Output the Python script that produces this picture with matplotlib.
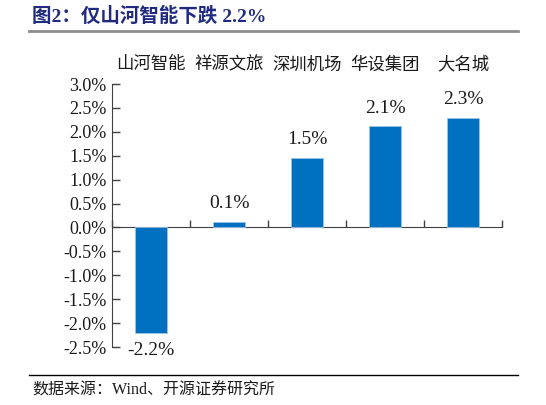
import matplotlib
matplotlib.use("Agg")
import matplotlib.pyplot as plt
from matplotlib.ticker import FuncFormatter, MultipleLocator

# data
companies = ["山河智能", "祥源文旅", "深圳机场", "华设集团", "大名城"]
changes = [-2.2, 0.12, 1.46, 2.12, 2.29]  # % change
title = "图2：仅山河智能下跌 2.2%"
source = "数据来源：Wind、开源证券研究所"

cjk = ["Noto Sans CJK SC", "DejaVu Sans"]
serif = ["Liberation Serif", "DejaVu Serif"]
mixed = ["Liberation Serif", "Noto Sans CJK SC", "DejaVu Sans"]  # latin serif, CJK fallback
plt.rcParams["font.family"] = serif
bar_color = "#0070C0"

fig = plt.figure(figsize=(5.46, 4.05), dpi=100)
ax = fig.add_axes([112 / 546, 1 - 347 / 405, 390 / 546, 263 / 405])

x = list(range(len(companies)))
ax.bar(x, changes, width=0.4, color=bar_color, edgecolor="#9CC3E6", linewidth=0.6, zorder=3)

ax.set_xlim(-0.5, len(companies) - 0.5)
ax.set_ylim(-2.5, 3.0)
ax.yaxis.set_major_locator(MultipleLocator(0.5))
ax.yaxis.set_major_formatter(FuncFormatter(lambda v, p: f"{v:.1f}%"))
ax.tick_params(axis="y", direction="in", length=6, width=1, color="#404040",
               pad=4, labelsize=13, labelcolor="#1a1a1a")

# x axis at zero, ticks at category boundaries pointing up
ax.spines["bottom"].set_position(("data", 0))
ax.spines["bottom"].set_color("#404040")
ax.spines["left"].set_color("#404040")
ax.spines["top"].set_visible(False)
ax.spines["right"].set_visible(False)
ax.set_xticks([i + 0.5 for i in range(-1, len(companies))])
ax.set_xticklabels([])
ax.tick_params(axis="x", direction="in", length=5, width=1, color="#404040")

# category names across the top
for xi, name in zip(x, companies):
    ax.text(xi, 1.04, name, transform=ax.get_xaxis_transform(),
            ha="center", va="bottom", fontsize=12.5, family=cjk,
            fontweight="light", color="#1a1a1a")

# value labels
for xi, v in zip(x, changes):
    if v >= 0:
        ax.text(xi, v + 0.2, f"{v:.1f}%", ha="center", va="bottom",
                fontsize=14, family=serif, color="#1a1a1a")
    else:
        ax.text(xi, v - 0.2, f"{v:.1f}%", ha="center", va="top",
                fontsize=14, family=serif, color="#1a1a1a")

# header and footer
fig.text(32 / 546, 1 - 16 / 405, title, ha="left", va="center", fontsize=14,
         fontweight="bold", family=mixed, color="#1F2A80")
fig.add_artist(plt.Line2D([29 / 546, 518 / 546], [1 - 31 / 405] * 2,
                          color="#8c8c8c", linewidth=2, transform=fig.transFigure))
fig.add_artist(plt.Line2D([29 / 546, 518 / 546], [1 - 375 / 405] * 2,
                          color="#000000", linewidth=1, transform=fig.transFigure))
fig.text(32 / 546, 1 - 391 / 405, source, ha="left", va="center", fontsize=11.5,
         family=mixed, color="#1a1a1a")

fig.savefig("out.png", dpi=100)
